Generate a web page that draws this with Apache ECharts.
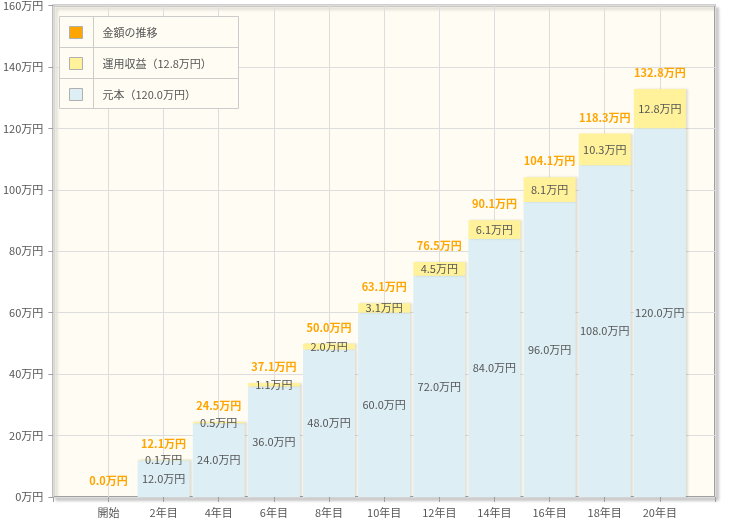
<!DOCTYPE html>
<html>
<head>
<meta charset="utf-8">
<script src="https://cdn.jsdelivr.net/npm/echarts@6/dist/echarts.min.js"></script>
<style>
html,body{margin:0;padding:0;background:#fff;}
#chart{width:735px;height:527px;}
</style>
</head>
<body>
<div id="chart"></div>
<script>
var categories = ['開始','2年目','4年目','6年目','8年目','10年目','12年目','14年目','16年目','18年目','20年目'];
var principal = [0,12,24,36,48,60,72,84,96,108,120];
var gains = [0,0.1,0.5,1.1,2.0,3.1,4.5,6.1,8.1,10.3,12.8];
var totals = [0.0,12.1,24.5,37.1,50.0,63.1,76.5,90.1,104.1,118.3,132.8];
var yTicks = [0,20,40,60,80,100,120,140,160];
var legendNames = ['金額の推移','運用収益（12.8万円）','元本（120.0万円）'];

function pad(arr){ return ['-'].concat(arr).concat(['-']); }
var cats = [''].concat(categories).concat(['']);
var font = "'Noto Sans CJK JP', sans-serif";
var cream = '#fffcf3';
var blue = '#ddeef5';
var yellow = '#fff29a';
var orange = '#ffa500';

var chart = echarts.init(document.getElementById('chart'));
var inner = function(p){ return (p.value && p.value > 0) ? p.value.toFixed(1) + '万円' : ''; };
var barShadow = {shadowColor:'rgba(0,0,0,0.12)', shadowBlur:2, shadowOffsetX:2, shadowOffsetY:0};

chart.setOption({
  animation:false,
  textStyle:{fontFamily:font},
  grid:{left:49, top:5, right:20, bottom:30, show:true, backgroundColor:cream,
        borderColor:'#a0a0a0', borderWidth:2,
        shadowColor:'rgba(0,0,0,0.18)', shadowBlur:3, shadowOffsetX:3, shadowOffsetY:3},
  graphic:[
    {type:'rect', z:3, shape:{x:59.5,y:16.5,width:179,height:92}, style:{fill:cream, stroke:'#cccccc', lineWidth:1}},
    {type:'line', z:3, shape:{x1:59.5,y1:47.5,x2:238.5,y2:47.5}, style:{stroke:'#cccccc', lineWidth:1}},
    {type:'line', z:3, shape:{x1:59.5,y1:78.5,x2:238.5,y2:78.5}, style:{stroke:'#cccccc', lineWidth:1}},
    {type:'line', z:3, shape:{x1:93.5,y1:16.5,x2:93.5,y2:108.5}, style:{stroke:'#cccccc', lineWidth:1}}
  ],
  legend:{
    orient:'vertical', left:64, top:21, itemGap:18, itemWidth:13, itemHeight:12, icon:'rect', z:5,
    selectedMode:false,
    itemStyle:{borderColor:'#b0b0b0', borderWidth:1},
    textStyle:{color:'#555', fontSize:11, fontFamily:font, padding:[0,0,0,15]},
    data:[
      {name:legendNames[0], itemStyle:{color:orange}},
      {name:legendNames[1], itemStyle:{color:yellow}},
      {name:legendNames[2], itemStyle:{color:blue}}
    ]
  },
  xAxis:{
    type:'category', data:cats, boundaryGap:false,
    axisLine:{show:false},
    axisTick:{show:true, length:5, lineStyle:{color:'#a0a0a0'}, interval:0},
    axisLabel:{color:'#555', fontSize:11, margin:10, interval:0, fontFamily:font},
    splitLine:{show:true, interval:0, lineStyle:{color:'#dddddd', width:1}}
  },
  yAxis:{
    type:'value', min:yTicks[0], max:yTicks[yTicks.length-1], interval:20,
    axisLine:{show:false},
    axisTick:{show:true, length:5, lineStyle:{color:'#a0a0a0'}},
    axisLabel:{color:'#555', fontSize:11, margin:10, formatter:'{value}万円', fontFamily:font},
    splitLine:{show:true, lineStyle:{color:'#dddddd', width:1}}
  },
  series:[
    {name:legendNames[2], type:'bar', stack:'a', barWidth:52, data:pad(principal),
     itemStyle:Object.assign({color:blue}, barShadow),
     label:{show:true, position:'inside', color:'#555', fontSize:11, fontFamily:font, formatter:inner}},
    {name:legendNames[1], type:'bar', stack:'a', barWidth:52, data:pad(gains),
     itemStyle:Object.assign({color:yellow}, barShadow),
     label:{show:true, position:'inside', color:'#555', fontSize:11, fontFamily:font, formatter:inner}},
    {name:legendNames[0], type:'line', data:pad(totals), symbol:'circle', symbolSize:1,
     itemStyle:{color:'rgba(0,0,0,0)'}, lineStyle:{width:0, opacity:0}, z:5,
     label:{show:true, position:'top', distance:10, color:orange, fontWeight:'bold', fontSize:11, fontFamily:font,
            formatter:function(p){ return p.value.toFixed(1) + '万円'; }}}
  ]
});
</script>
</body>
</html>
